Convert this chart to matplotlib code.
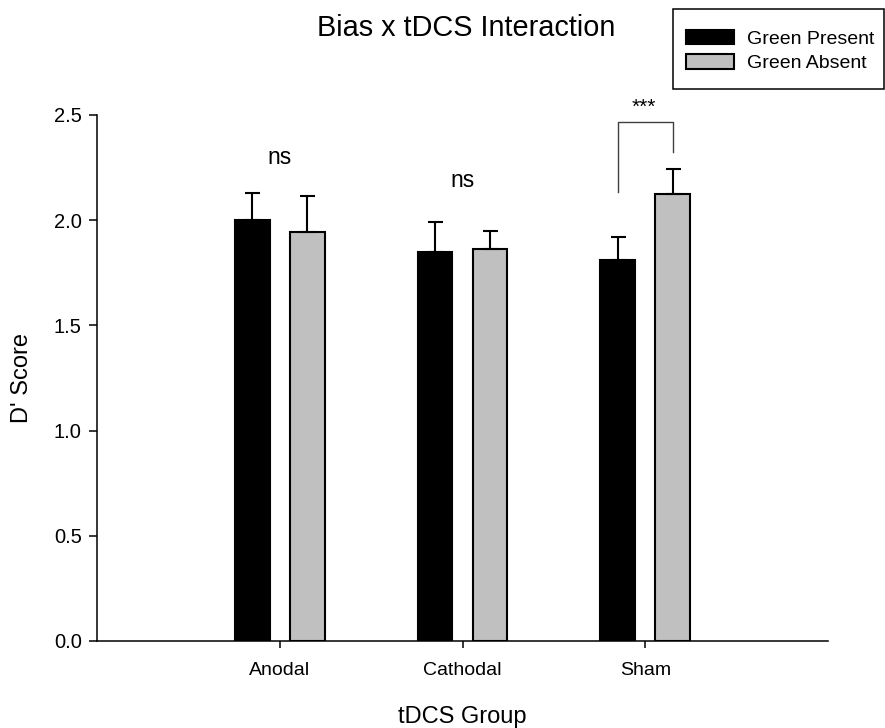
import matplotlib
matplotlib.use("Agg")
import matplotlib.pyplot as plt
import numpy as np
from matplotlib.patches import Rectangle

plt.rcParams['font.family'] = ['Liberation Sans', 'DejaVu Sans']

groups = ["Anodal", "Cathodal", "Sham"]
series = ["Green Present", "Green Absent"]
present_mean = [2.00, 1.85, 1.81]
present_err = [0.13, 0.14, 0.11]
absent_mean = [1.945, 1.865, 2.125]
absent_err = [0.17, 0.085, 0.12]
sig_labels = ["ns", "ns", "***"]

W, H = 885, 728
fig = plt.figure(figsize=(W / 100, H / 100), dpi=100)
ax = fig.add_axes([97 / W, (H - 641) / H, (828 - 97) / W, (641 - 115) / H])

x = np.arange(1, len(groups) + 1)
off = 0.15
bw = 0.19
ekw = dict(elinewidth=1.5, capthick=1.5, ecolor='black')
ax.bar(x - off, present_mean, bw, color='black', edgecolor='black', linewidth=1.5,
       yerr=[np.zeros(3), present_err], capsize=5.4, error_kw=ekw, label=series[0], zorder=3)
ax.bar(x + off, absent_mean, bw, color='#C0C0C0', edgecolor='black', linewidth=1.5,
       yerr=[np.zeros(3), absent_err], capsize=5.4, error_kw=ekw, label=series[1], zorder=3)

ax.set_xlim(0, 4)
ax.set_ylim(0, 2.5)
ax.set_yticks([0, 0.5, 1.0, 1.5, 2.0, 2.5])
ax.set_yticklabels(["0.0", "0.5", "1.0", "1.5", "2.0", "2.5"])
ax.set_xticks(x)
ax.set_xticklabels(groups)
for s in ['top', 'right']:
    ax.spines[s].set_visible(False)
for s in ['left', 'bottom']:
    ax.spines[s].set_linewidth(1.1)
ax.tick_params(axis='y', direction='out', length=6, width=1.1, labelsize=14.5, pad=5)
ax.tick_params(axis='x', direction='out', length=5, width=1.1, labelsize=14, pad=10)

ax.set_ylabel("D' Score", fontsize=17)
ax.yaxis.set_label_coords((22 - 97) / (828 - 97), 0.5)
ax.yaxis.label.set_va('center')
ax.set_xlabel("tDCS Group", fontsize=17)
ax.xaxis.set_label_coords(0.5, (641 - 717) / (641 - 115))
ax.xaxis.label.set_va('center')

# annotations
ax.text(1, 2.30, sig_labels[0], ha='center', va='center', fontsize=16.5)
ax.text(2, 2.19, sig_labels[1], ha='center', va='center', fontsize=16.5)
bx0, bx1 = 3 - off, 3 + off
ax.plot([bx0, bx0, bx1, bx1], [2.135, 2.465, 2.465, 2.325], color='#404040',
        linewidth=1.0, clip_on=False)
ax.text(3 - 0.01, 2.535, sig_labels[2], ha='center', va='center', fontsize=15, clip_on=False)

fig.text(466 / W, 1 - 28 / H, "Bias x tDCS Interaction", ha='center', va='center', fontsize=20.8)

# legend
leg = fig.legend(loc='upper left', bbox_to_anchor=(686 / W, 1 - 30 / H), frameon=False,
                 fontsize=14, handlelength=2.47, handleheight=0.77, handletextpad=0.67,
                 labelspacing=0.32, borderpad=0, borderaxespad=0)
for h in leg.legend_handles:
    h.set_linewidth(1.5)
fig.patches.append(Rectangle((673 / W, 1 - 89 / H), (884 - 673) / W, (89 - 9) / H,
                             transform=fig.transFigure, fill=False, edgecolor='black',
                             linewidth=1.1))

fig.savefig("out.png", dpi=100)
